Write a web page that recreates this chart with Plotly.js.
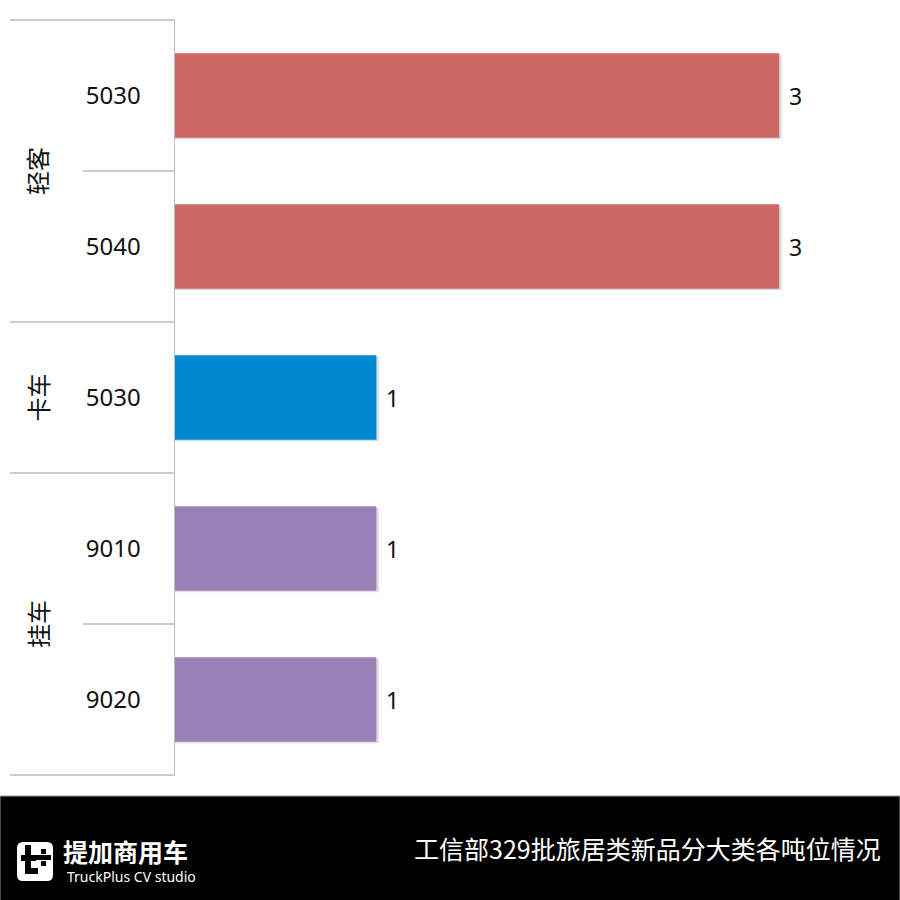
<!DOCTYPE html>
<html>
<head>
<meta charset="utf-8">
<script src="https://cdn.plot.ly/plotly-3.0.1.min.js"></script>
<style>html,body{margin:0;padding:0;background:#fff;}#chart{width:900px;height:900px;}</style>
</head>
<body>
<div id="chart"></div>
<script>
// ---- data ----
const groups = ["轻客", "轻客", "卡车", "挂车", "挂车"];
const tonnage = ["5030", "5040", "5030", "9010", "9020"];
const counts = [3, 3, 1, 1, 1];
const groupColors = {"轻客": "#CD6862", "卡车": "#0089D1", "挂车": "#9B80B7"};
const footerTitle = "工信部329批旅居类新品分大类各吨位情况";
const brandCN = "提加商用车";
const brandEN = "TruckPlus CV studio";

// ---- layout helpers ----
const W = 900, H = 900, ML = 175, MR = 0, MT = 20, MB = 125;
const PW = W - ML - MR, PH = H - MT - MB;
const px = x => (x - ML) / PW;
const py = y => (H - MB - y) / PH;
const FONT = "Noto Sans, Noto Sans CJK SC, sans-serif";
const CJK = "Noto Sans CJK SC, Noto Sans, sans-serif";

const idx = tonnage.map((_, i) => i);

const trace = {
  type: "bar",
  orientation: "h",
  x: counts,
  y: idx,
  marker: {color: groups.map(g => groupColors[g]), line: {width: 0}},
  hoverinfo: "skip"
};
const shadow = {
  type: "bar",
  orientation: "h",
  x: counts.map(v => v + 0.012),
  y: idx,
  offset: -0.27,
  width: 0.56,
  marker: {color: "rgba(0,0,0,0.13)", line: {width: 0}},
  hoverinfo: "skip"
};

const shapes = [];
const annotations = [];

// value labels
counts.forEach((v, i) => {
  annotations.push({x: v, y: i, xref: "x", yref: "y", text: String(v), showarrow: false,
    xanchor: "left", xshift: 8, font: {family: FONT, size: 23, color: "#111"}});
});

// group separators and group labels
const lineColor = "#BDBDBD";
const grpList = [];
groups.forEach((g, i) => {
  if (grpList.length === 0 || grpList[grpList.length - 1].name !== g) grpList.push({name: g, start: i, end: i});
  else grpList[grpList.length - 1].end = i;
});
const yTop = i => py(MT + i * PH / groups.length);
grpList.forEach(gr => {
  shapes.push({type: "line", xref: "paper", yref: "paper", x0: px(10), x1: 0,
    y0: yTop(gr.start), y1: yTop(gr.start), line: {color: lineColor, width: 1.5}});
  for (let k = gr.start + 1; k <= gr.end; k++) {
    shapes.push({type: "line", xref: "paper", yref: "paper", x0: px(83), x1: 0,
      y0: yTop(k), y1: yTop(k), line: {color: lineColor, width: 1.5}});
  }
  annotations.push({xref: "paper", yref: "paper", x: px(37), y: (yTop(gr.start) + yTop(gr.end + 1)) / 2,
    xanchor: "center", yanchor: "middle",
    text: gr.name, textangle: -90, showarrow: false, font: {family: CJK, size: 24, color: "#111"}});
});
shapes.push({type: "line", xref: "paper", yref: "paper", x0: px(10), x1: 0,
  y0: 0, y1: 0, line: {color: lineColor, width: 1.5}});

// footer band
shapes.push({type: "rect", xref: "paper", yref: "paper", x0: px(0), x1: px(900), y0: py(796), y1: py(901),
  fillcolor: "#000", line: {color: "#999", width: 1}, layer: "above"});
// logo icon
shapes.push({type: "path", xref: "paper", yref: "paper", layer: "above",
  path: (() => {
    const x0 = 17, x1 = 53, y0 = 842, y1 = 881, r = 6;
    const pts = [[x0 + r, y0], [x1 - r, y0], [x1, y0 + r], [x1, y1 - r], [x1 - r, y1], [x0 + r, y1], [x0, y1 - r], [x0, y0 + r]];
    return "M" + px(pts[0][0]) + "," + py(pts[0][1]) +
      " L" + px(pts[1][0]) + "," + py(pts[1][1]) +
      " Q" + px(x1) + "," + py(y0) + " " + px(pts[2][0]) + "," + py(pts[2][1]) +
      " L" + px(pts[3][0]) + "," + py(pts[3][1]) +
      " Q" + px(x1) + "," + py(y1) + " " + px(pts[4][0]) + "," + py(pts[4][1]) +
      " L" + px(pts[5][0]) + "," + py(pts[5][1]) +
      " Q" + px(x0) + "," + py(y1) + " " + px(pts[6][0]) + "," + py(pts[6][1]) +
      " L" + px(pts[7][0]) + "," + py(pts[7][1]) +
      " Q" + px(x0) + "," + py(y0) + " " + px(pts[0][0]) + "," + py(pts[0][1]) + " Z";
  })(),
  fillcolor: "#fff", line: {width: 0}});
const blk = (a, b, c, d) => shapes.push({type: "rect", xref: "paper", yref: "paper", layer: "above",
  x0: px(a), x1: px(c), y0: py(b), y1: py(d), fillcolor: "#000", line: {width: 0}});
blk(25, 845, 31, 871);
blk(21, 855, 36, 861);
blk(25, 868, 38, 874);
blk(41, 849, 46, 854);
blk(36, 855, 41, 860);
blk(46, 855, 51, 860);
blk(41, 861, 46, 866);
blk(41, 855, 46, 860);

annotations.push({xref: "paper", yref: "paper", x: px(61), y: py(851), xanchor: "left", yanchor: "middle",
  text: "<b>" + brandCN + "</b>", showarrow: false, font: {family: CJK, size: 25, color: "#fff"}});
annotations.push({xref: "paper", yref: "paper", x: px(65), y: py(876), xanchor: "left", yanchor: "middle",
  text: brandEN, showarrow: false, font: {family: FONT, size: 14, color: "#fff"}});
annotations.push({xref: "paper", yref: "paper", x: px(883), y: py(848), xanchor: "right", yanchor: "middle",
  text: footerTitle, showarrow: false, font: {family: CJK, size: 25, color: "#fff"}});

const layout = {
  width: W, height: H,
  margin: {l: ML, r: MR, t: MT, b: MB, pad: 0},
  paper_bgcolor: "#fff", plot_bgcolor: "#fff",
  showlegend: false,
  barmode: "overlay",
  bargap: 0.44,
  xaxis: {range: [0, 3.6], showgrid: false, zeroline: false, showticklabels: false, ticks: "", showline: false, fixedrange: true},
  yaxis: {range: [groups.length - 0.5, -0.5], tickmode: "array", tickvals: idx, ticktext: tonnage,
    showgrid: false, zeroline: false, showline: true, linecolor: lineColor, linewidth: 1.5,
    ticks: "outside", ticklen: 28, tickcolor: "rgba(0,0,0,0)",
    tickfont: {family: FONT, size: 24, color: "#111"}, fixedrange: true},
  shapes: shapes,
  annotations: annotations
};

Plotly.newPlot("chart", [shadow, trace], layout, {displayModeBar: false, staticPlot: true});
</script>
</body>
</html>
